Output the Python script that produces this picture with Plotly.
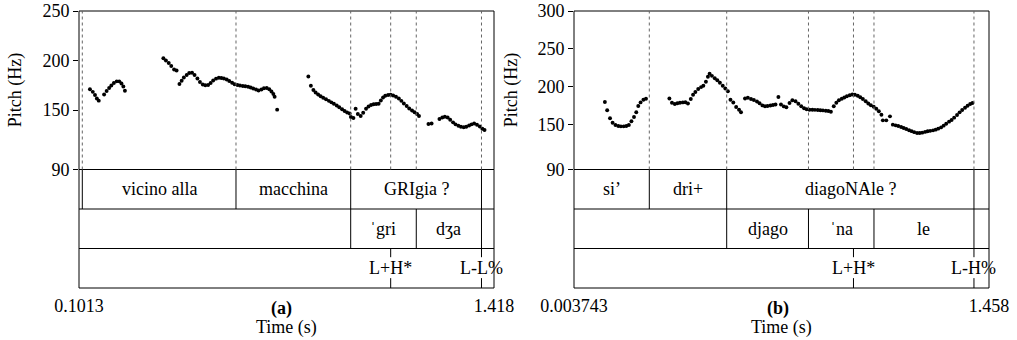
import plotly.graph_objects as go

FONT = "Liberation Serif, Times New Roman, serif"
FS = 18

# ---------------- Panel (a) data ----------------
time_a = [0.136, 0.145, 0.152, 0.158, 0.164,
          0.181, 0.189, 0.197, 0.204, 0.212, 0.221, 0.229, 0.236, 0.242, 0.247,
          0.369, 0.377, 0.386, 0.394, 0.403, 0.411,
          0.420, 0.427, 0.434, 0.443, 0.451, 0.460, 0.468, 0.477, 0.485, 0.494,
          0.502, 0.511, 0.519, 0.527, 0.536, 0.545, 0.553, 0.561, 0.570, 0.578,
          0.587, 0.595, 0.604, 0.612, 0.621, 0.629, 0.638, 0.646, 0.654, 0.663,
          0.671, 0.680, 0.688, 0.697, 0.705, 0.712, 0.718, 0.722, 0.730,
          0.829, 0.837, 0.845, 0.852, 0.860, 0.868, 0.876, 0.885, 0.894, 0.902,
          0.910, 0.919, 0.927, 0.936, 0.944, 0.952, 0.960, 0.964, 0.972,
          0.979, 0.986, 0.995, 1.003, 1.012, 1.020, 1.028, 1.036, 1.044, 1.052,
          1.059, 1.066, 1.073, 1.082, 1.090, 1.098, 1.107, 1.116, 1.124, 1.132,
          1.141, 1.149, 1.158, 1.166, 1.174, 1.180,
          1.210, 1.220,
          1.245, 1.254, 1.262, 1.271, 1.279, 1.288, 1.296, 1.305, 1.313, 1.322,
          1.330, 1.339, 1.347, 1.355, 1.364, 1.373, 1.381, 1.388]
pitch_a = [171.0, 168.4, 165.2, 161.7, 159.5,
           165.7, 169.2, 172.3, 174.8, 177.3, 179.0, 179.0, 176.8, 173.8, 169.5,
           202.3, 200.0, 197.5, 194.5, 190.9, 189.9,
           176.3, 179.6, 182.9, 185.4, 187.4, 187.7, 185.4, 181.9, 178.3, 175.8,
           175.0, 175.3, 177.3, 179.8, 181.7, 182.6, 182.4, 181.9, 180.9, 179.3,
           177.5, 176.0, 175.3, 174.8, 174.3, 174.0, 173.5, 172.8, 171.8, 170.8,
           169.7, 170.8, 172.0, 172.3, 171.0, 168.7, 166.2, 163.5, 150.4,
           183.9, 174.6, 170.3, 167.7, 165.7, 163.9, 162.4, 160.9, 159.3, 157.8,
           156.3, 154.6, 152.8, 150.8, 149.1, 147.5, 146.5, 143.0, 142.0,
           151.4, 146.0, 144.0, 147.3, 151.4, 153.6, 155.1, 155.9, 156.1, 156.4,
           159.7, 162.7, 164.4, 165.2, 165.4, 164.7, 163.4, 161.7, 159.3, 156.6,
           154.1, 151.6, 149.6, 147.8, 146.0, 144.0,
           135.9, 136.4,
           141.0, 142.5, 143.2, 142.5, 140.2, 137.6, 135.6, 134.1, 133.1, 132.6,
           133.1, 134.4, 135.6, 136.4, 135.2, 133.4, 131.2, 129.9]

a_range = [0.1013, 1.418]
a_pitch_ticks = [90, 150, 200, 250]
a_word_start = [0.1118, 0.5994, 0.9633, 1.3783]
a_word_end = [0.5994, 0.9633, 1.3783, 1.418]
a_word_text = ["vicino alla", "macchina", "GRIgia ?", ""]
a_syl_start = [0.9633, 1.1714, 1.3783]
a_syl_end = [1.1714, 1.3783, 1.418]
a_syl_text = ["ˈgri", "dʒa", ""]
a_tone_time = [1.0902, 1.3783]
a_tone_text = ["L+H*", "L-L%"]

# ---------------- Panel (b) data ----------------
time_b = [0.112, 0.120, 0.130, 0.139, 0.149, 0.159, 0.168, 0.178, 0.187, 0.196,
          0.205, 0.214, 0.222, 0.229, 0.237, 0.247, 0.256,
          0.338, 0.347, 0.357, 0.366, 0.375, 0.385, 0.394, 0.403, 0.413, 0.421,
          0.429, 0.439, 0.449, 0.457, 0.466, 0.473, 0.479, 0.487, 0.497, 0.506,
          0.515, 0.525, 0.534, 0.543, 0.552, 0.562, 0.572, 0.582, 0.589,
          0.603, 0.613, 0.624, 0.634, 0.645, 0.654, 0.664, 0.673, 0.682, 0.692,
          0.701, 0.710, 0.720, 0.729, 0.739, 0.748, 0.759, 0.769, 0.780, 0.790,
          0.800, 0.810, 0.819, 0.829, 0.839, 0.848, 0.858, 0.867, 0.876, 0.886,
          0.895, 0.904,
          0.914, 0.923, 0.932, 0.942, 0.951, 0.960, 0.970, 0.979, 0.988, 0.998,
          1.007, 1.016, 1.026, 1.035, 1.044, 1.054, 1.063, 1.072, 1.081,
          1.086, 1.098, 1.111,
          1.121, 1.131, 1.140, 1.150, 1.159, 1.168, 1.178, 1.187, 1.196, 1.206,
          1.215, 1.224, 1.234, 1.243, 1.252, 1.262, 1.271, 1.280, 1.290, 1.299,
          1.308, 1.318, 1.327, 1.336, 1.346, 1.355, 1.364, 1.374, 1.383, 1.392,
          1.400]
pitch_b = [179.4, 168.6, 158.0, 152.0, 149.0, 147.7, 147.2, 147.2, 147.7, 149.0,
           154.0, 159.6, 165.9, 174.1, 178.9, 182.4, 183.8,
           184.0, 178.5, 176.8, 177.8, 178.5, 178.9, 179.1, 177.5, 183.4, 189.0,
           192.6, 196.6, 199.2, 200.9, 206.2, 212.8, 216.8, 214.1, 210.8, 208.2,
           204.9, 200.9, 197.4, 193.7, 182.4, 178.7, 172.8, 169.2, 165.9,
           184.1, 185.1, 183.4, 182.0, 180.0, 177.8, 174.9, 173.8, 174.2, 174.8,
           175.4, 176.2, 186.0, 176.2, 173.6, 172.5, 178.1, 181.8, 180.5, 177.1,
           173.8, 171.2, 169.9, 169.2, 169.2, 169.0, 168.8, 168.6, 168.3, 167.9,
           167.5, 166.6,
           173.8, 178.5, 181.8, 183.8, 185.3, 187.1, 188.4, 189.3, 189.0, 187.7,
           185.7, 183.4, 180.4, 177.5, 175.2, 173.2, 170.5, 167.2, 162.6,
           155.1, 155.1, 160.4,
           149.4, 148.5, 147.7, 146.4, 145.0, 143.7, 142.1, 140.8, 139.5, 138.4,
           138.4, 138.8, 139.8, 140.6, 141.2, 141.9, 142.8, 144.1, 145.8, 148.1,
           150.7, 153.4, 155.6, 158.7, 162.2, 165.7, 168.8, 171.9, 174.5, 176.8,
           178.1]

b_range = [0.003743, 1.458]
b_pitch_ticks = [90, 150, 200, 250, 300]
b_word_start = [0.003743, 0.2676, 0.5388, 1.4053]
b_word_end = [0.2676, 0.5388, 1.4053, 1.458]
b_word_text = ["si’", "dri+", "diagoNAle ?", ""]
b_syl_start = [0.5388, 0.8254, 1.0549, 1.4053]
b_syl_end = [0.8254, 1.0549, 1.4053, 1.458]
b_syl_text = ["djago", "ˈna", "le", ""]
b_tone_time = [0.9831, 1.4053]
b_tone_text = ["L+H*", "L-H%"]

# ---------------- layout geometry ----------------
W, H = 1017, 340
PITCH_TOP = 1 - 11 / H
PITCH_BOT = 1 - 169.5 / H
TIER_BOT = 1 - 288 / H

fig = go.Figure()

panels = [
    dict(x="x", y="y", yt="y2", xl="xaxis", yl="yaxis", ytl="yaxis2",
         dom=(79, 494), rng=a_range, ymax=250, yt_ticks=a_pitch_ticks,
         t=time_a, f=pitch_a,
         words=(a_word_start, a_word_end, a_word_text),
         syls=(a_syl_start, a_syl_end, a_syl_text),
         tones=(a_tone_time, a_tone_text),
         label="(a)", label_x=281, title_x=15),
    dict(x="x2", y="y3", yt="y4", xl="xaxis2", yl="yaxis3", ytl="yaxis4",
         dom=(574, 989), rng=b_range, ymax=300, yt_ticks=b_pitch_ticks,
         t=time_b, f=pitch_b,
         words=(b_word_start, b_word_end, b_word_text),
         syls=(b_syl_start, b_syl_end, b_syl_text),
         tones=(b_tone_time, b_tone_text),
         label="(b)", label_x=778, title_x=511),
]

shapes = []
annotations = []
layout = {}
LINE = dict(color="black", width=1)
TXT = dict(family=FONT, size=FS, color="black")


def note(**kw):
    d = dict(showarrow=False, font=TXT, xanchor="center", yanchor="middle")
    d.update(kw)
    annotations.append(d)


for p in panels:
    fig.add_trace(go.Scatter(x=p["t"], y=p["f"], xaxis=p["x"], yaxis=p["y"],
                             mode="markers",
                             marker=dict(color="black", size=3.9),
                             showlegend=False, hoverinfo="skip"))
    lo, hi = p["rng"]
    layout[p["xl"]] = dict(
        domain=[p["dom"][0] / W, p["dom"][1] / W], range=p["rng"],
        anchor=p["yt"], showgrid=False, zeroline=False, showline=False,
        automargin=False,
        tickvals=p["rng"], ticktext=[f"{v:g}" for v in p["rng"]],
        ticks="", ticklabelstandoff=5, tickfont=TXT)
    layout[p["yl"]] = dict(
        domain=[PITCH_BOT, PITCH_TOP], range=[90, p["ymax"]], anchor=p["x"],
        showgrid=False, zeroline=False, showline=False, automargin=False,
        tickvals=p["yt_ticks"], ticks="outside", ticklen=5, tickcolor="black",
        tickwidth=1, tickfont=TXT)
    layout[p["ytl"]] = dict(
        domain=[TIER_BOT, PITCH_BOT], range=[0, 3], anchor=p["x"],
        showgrid=False, zeroline=False, showline=False, automargin=False,
        showticklabels=False, ticks="")

    xd = p["x"] + " domain"
    shapes.append(dict(type="rect", xref=xd, yref=p["y"] + " domain",
                       x0=0, x1=1, y0=0, y1=1, line=LINE))
    shapes.append(dict(type="rect", xref=xd, yref=p["yt"] + " domain",
                       x0=0, x1=1, y0=0, y1=1, line=LINE))
    for yy in (1, 2):
        shapes.append(dict(type="line", xref=xd, yref=p["yt"],
                           x0=0, x1=1, y0=yy, y1=yy, line=LINE))

    bounds = set()
    seen = set()
    for (starts, ends, texts), (y0, y1) in ((p["words"], (2, 3)), (p["syls"], (1, 2))):
        for s, e, txt in zip(starts, ends, texts):
            for b in (s, e):
                if lo < b < hi and (b, y0) not in seen:
                    seen.add((b, y0))
                    bounds.add(b)
                    shapes.append(dict(type="line", xref=p["x"], yref=p["yt"],
                                       x0=b, x1=b, y0=y0, y1=y1, line=LINE))
            if txt:
                note(x=(s + e) / 2, y=(y0 + y1) / 2, xref=p["x"], yref=p["yt"], text=txt)
    times, texts = p["tones"]
    for tt, txt in zip(times, texts):
        bounds.add(tt)
        shapes.append(dict(type="line", xref=p["x"], yref=p["yt"],
                           x0=tt, x1=tt, y0=0.78, y1=1, line=LINE))
        shapes.append(dict(type="line", xref=p["x"], yref=p["yt"],
                           x0=tt, x1=tt, y0=0, y1=0.25, line=LINE))
        note(x=tt, y=0.5, xref=p["x"], yref=p["yt"], text=txt)
    for b in sorted(bounds):
        shapes.append(dict(type="line", xref=p["x"], yref=p["y"] + " domain",
                           x0=b, x1=b, y0=0, y1=1,
                           line=dict(color="#666", width=1, dash="dot")))

    note(x=p["label_x"] / W, y=1 - 308 / H, xref="paper", yref="paper",
         text=f"<b>{p['label']}</b>")
    note(x=(p["dom"][0] + p["dom"][1]) / 2 / W, y=1 - 327 / H,
         xref="paper", yref="paper", text="Time (s)")
    note(x=p["title_x"] / W, y=(PITCH_TOP + PITCH_BOT) / 2,
         xref="paper", yref="paper", text="Pitch (Hz)", textangle=-90)

fig.update_layout(
    template="none",
    width=W, height=H, margin=dict(l=0, r=0, t=0, b=0, pad=0),
    paper_bgcolor="white", plot_bgcolor="white",
    shapes=shapes, annotations=annotations, showlegend=False,
    font=TXT,
    **layout)

fig.write_html("out.html")
